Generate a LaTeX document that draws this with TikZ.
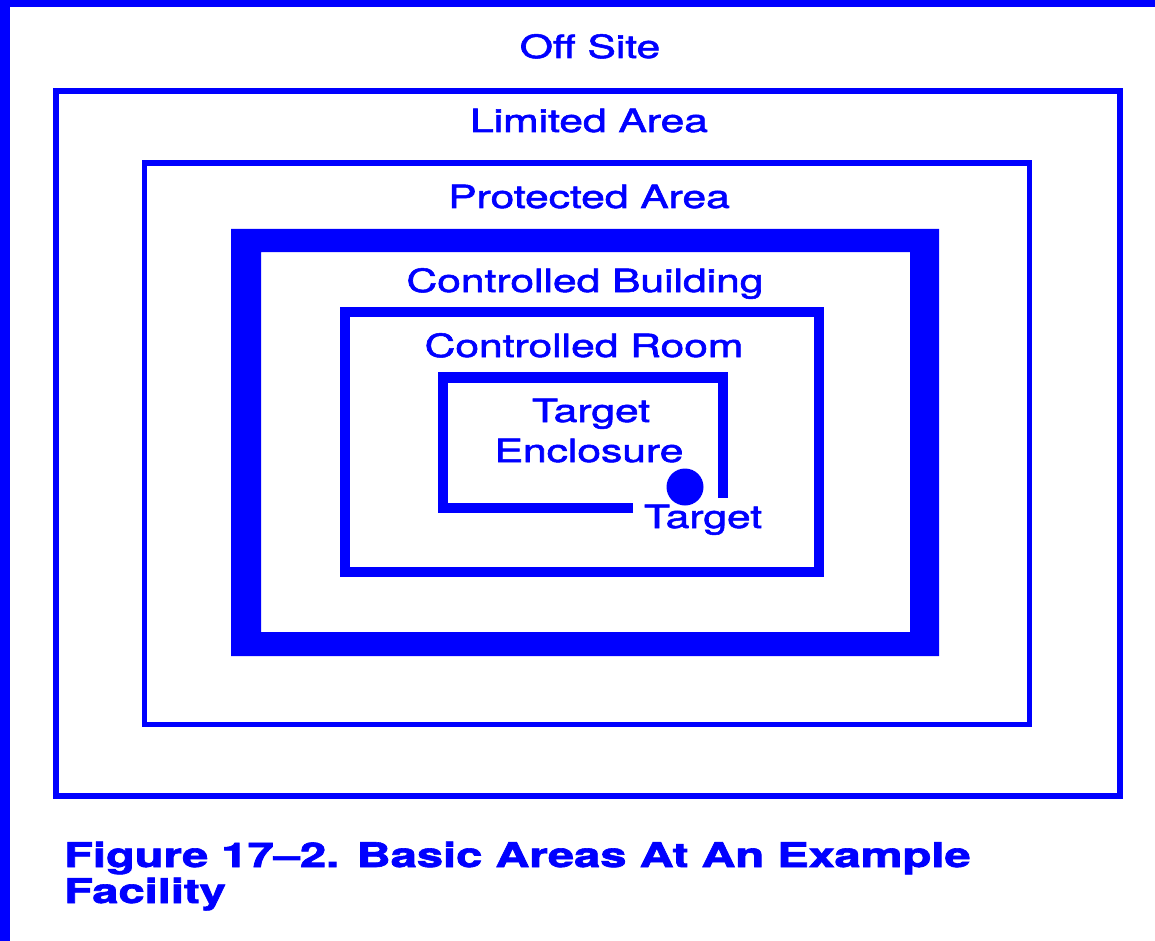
\documentclass[tikz,border=0pt]{standalone}
\usepackage{fontspec}
\setmainfont{TeX Gyre Heros}
\newfontfamily\labelfont[FakeBold=1.6]{TeX Gyre Heros}
\newfontfamily\captionfont[FakeBold=1.8]{TeX Gyre Heros}
\usepackage{graphicx}
\newcommand\wideA[1]{\scalebox{1.33}[1]{#1}}
\newcommand\wideB[1]{\scalebox{1.385}[1]{#1}}
\begin{document}
\begin{tikzpicture}[x=1pt,y=-1pt,
  lbl/.style={anchor=base,inner sep=0pt,text=blue,font=\labelfont\fontsize{32}{36}\selectfont},
  captext/.style={anchor=base west,inner sep=0pt,text=blue,font=\captionfont\fontsize{34}{38}\selectfont\bfseries},
  wall/.style={draw=blue,line cap=rect,line join=miter}]
\useasboundingbox (0,0) rectangle (1155,941);
\fill[white] (0,0) rectangle (1155,941);
% page edge bars
\fill[blue] (0,0) rectangle (10,941);
\fill[blue] (0,0) rectangle (1155,7);
% Limited area
\draw[wall,line width=5.5pt] (56,91) rectangle (1120,796);
% Protected area
\draw[wall,line width=5.5pt] (144.5,163) rectangle (1029.5,724.5);
% Controlled building (thick wall)
\fill[blue,even odd rule] (231,229) rectangle (939,656) (261,252) rectangle (910,632);
% Controlled room
\draw[wall,line width=10pt] (345,312) rectangle (819,572);
% Target enclosure (open)
\draw[draw=blue,line width=10.5pt,line join=miter] (633,508) -- (443,508) -- (443,377.5) -- (723,377.5) -- (723,498);
% Target
\fill[blue] (685,487) circle (18.5);
% labels
\node[lbl] (offsite) at (590,58) {\wideA{Off Site}};
\node[lbl] (limited) at (589,132) {\wideA{Limited Area}};
\node[lbl] (protected) at (589,208) {\wideA{Protected Area}};
\node[lbl] (building) at (585,292) {\wideA{Controlled Building}};
\node[lbl] (room) at (584,357) {\wideA{Controlled Room}};
\node[lbl] (encl1) at (591,422) {\wideA{Target}};
\node[lbl] (encl2) at (589,462) {\wideA{Enclosure}};
\node[lbl] (target) at (703,528) {\wideA{Target}};
\node[captext] (cap1) at (64,867) {\wideB{Figure 17–2. Basic Areas At An Example}};
\node[captext] (cap2) at (64,903) {\wideB{Facility}};
\end{tikzpicture}
\end{document}
